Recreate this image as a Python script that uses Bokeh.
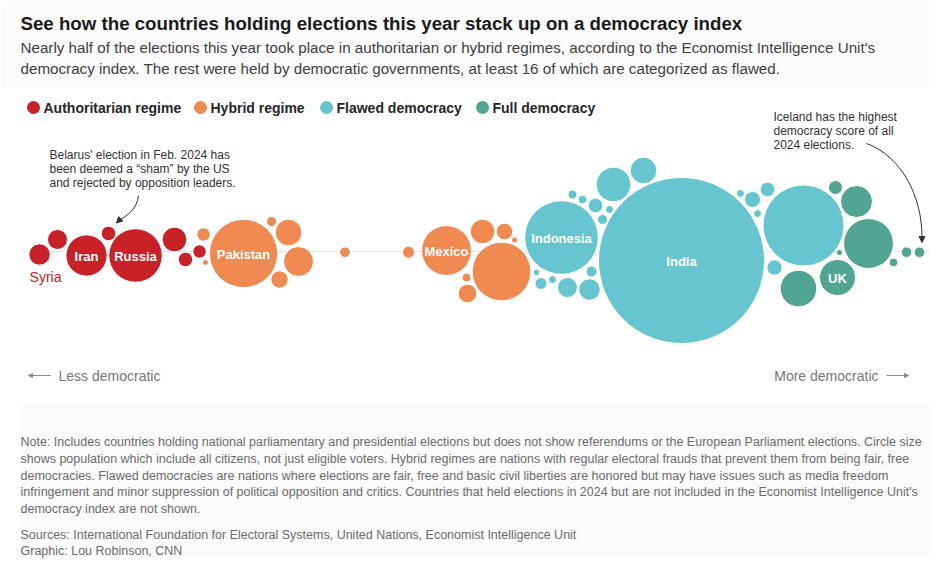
import numpy as np
from bokeh.plotting import figure
from bokeh.models import Range1d, Arrow, NormalHead, ColumnDataSource
from bokeh.core.properties import value
from bokeh.embed import file_html
from bokeh.resources import INLINE

# ---------------- data ----------------
categories = ["Authoritarian regime", "Hybrid regime", "Flawed democracy", "Full democracy"]
category_colors = ["#c62228", "#ef8a52", "#66c5cf", "#52a593"]

names = ["Syria", "", "Iran", "Belarus", "Russia", "", "", "",
         "", "", "Pakistan", "", "", "", "", "", "", "Mexico", "", "", "", "", "", "",
         "Indonesia", "", "", "", "", "", "", "", "", "", "", "", "", "", "India",
         "", "", "", "", "", "",
         "", "", "", "", "UK", "", "", "", "Iceland"]
category = [0, 0, 0, 0, 0, 0, 0, 0,
            1, 1, 1, 1, 1, 1, 1, 1, 1, 1, 1, 1, 1, 1, 1, 1,
            2, 2, 2, 2, 2, 2, 2, 2, 2, 2, 2, 2, 2, 2, 2,
            2, 2, 2, 2, 2, 2,
            3, 3, 3, 3, 3, 3, 3, 3, 3]
population = [24, 21, 89, 11, 150, 32, 11, 9.4,
              9.4, 1.9, 244, 5.2, 37, 47, 15.8, 5.9, 7.5, 130, 31.6, 14.4, 1.9, 180, 3.9, 18.1,
              284, 4.2, 3.9, 11.1, 3.3, 5.2, 62.6, 37, 2.3, 7.5, 3.3, 20.9, 24, 6.3, 1441,
              343, 3.3, 13.4, 11.1, 3.3, 12.4,
              10.2, 53.5, 130, 70, 67.8, 1.9, 3.9, 5.9, 5.9]
# beeswarm layout position along the democracy-index axis, and vertical swarm offset
swarm_x = [39, 57, 86, 108, 135, 174, 185, 199,
           203, 205, 243, 271, 288, 298, 279, 344.5, 408, 446, 482, 504, 514, 501, 466, 467,
           561, 572, 582, 595, 609, 602, 613, 643, 536, 540.5, 552, 567, 589, 591, 681,
           803, 740, 752, 767, 757, 774,
           835, 856, 868, 798, 837, 839, 893, 906, 919]
swarm_y = [-3, 12, -4, 18, -4, 12, -8, 0,
           17, -11, -2, 30, 19, -10, -28, -0.7, -0.7, 1, 20, 20, 11.5, -20, -26, -42,
           14, 57, 52, 46, 42, 32, 67, 81, -21, -32, -28, -36, -38, -20, -9,
           26, 58, 52, 62, 38, -16,
           64, 50, 8, -37, -26, -1, -11, -0.7, -0.7]

BASE_Y = 251
R_MAX = 83.0

legend_x = [33, 200, 326, 482]

# ---------------- figure ----------------
W, H = 940, 558
p = figure(width=W, height=H, x_range=Range1d(0, W), y_range=Range1d(H, 0),
           output_backend="svg", toolbar_location=None, min_border=0)
p.axis.visible = False
p.grid.visible = False
p.outline_line_color = None
p.background_fill_color = "white"
p.border_fill_color = "white"

FONT = value("Liberation Sans")

# subtle header/footer bands
p.quad(left=[0], right=[929], top=[0], bottom=[88], fill_color="#fcfcfc", line_color=None)
p.quad(left=[20], right=[930], top=[402], bottom=[H], fill_color="#fbfbfb", line_color=None)

# baseline
p.segment(x0=[20], y0=[BASE_Y], x1=[930], y1=[BASE_Y], line_color="#e3e3e3", line_width=1)

pop = np.array(population, dtype=float)
radius = R_MAX * np.sqrt(pop / pop.max())
cx = np.array(swarm_x, dtype=float)
cy = BASE_Y - np.array(swarm_y, dtype=float)
cols = [category_colors[c] for c in category]
src = ColumnDataSource(dict(x=cx, y=cy, r=radius, color=cols))
p.circle(x="x", y="y", radius="r", source=src, fill_color="color", line_color="white",
         line_width=1)

# labels inside circles
lab_x, lab_y, lab_t = [], [], []
for n, x, y in zip(names, cx, cy):
    if n in ("Iran", "Russia", "Pakistan", "Mexico", "Indonesia", "India", "UK"):
        lab_x.append(x); lab_y.append(y + 1); lab_t.append(n)
p.text(x=lab_x, y=lab_y, text=lab_t, text_font=FONT, text_font_style="bold",
       text_font_size="13px", text_color="white", text_align="center", text_baseline="middle")
i_syria = names.index("Syria")
p.text(x=[cx[i_syria] + 6], y=[cy[i_syria] + 22], text=["Syria"], text_font=FONT,
       text_font_size="14px", text_color=category_colors[0], text_align="center",
       text_baseline="middle")

# title / subtitle
p.text(x=[20], y=[23], text=["See how the countries holding elections this year stack up on a democracy index"],
       text_font=FONT, text_font_style="bold", text_font_size="18.7px", text_color="#1a1a1a",
       text_baseline="middle")
p.text(x=[20, 20], y=[47, 68],
       text=["Nearly half of the elections this year took place in authoritarian or hybrid regimes, according to the Economist Intelligence Unit's",
             "democracy index. The rest were held by democratic governments, at least 16 of which are categorized as flawed."],
       text_font=FONT, text_font_size="15.2px", text_color="#404040", text_baseline="middle")

# legend
p.circle(x=legend_x, y=[107] * 4, radius=6.5, fill_color=category_colors, line_color=None)
p.text(x=[lx + 10 for lx in legend_x], y=[107] * 4, text=categories, text_font=FONT,
       text_font_style="bold", text_font_size="14px", text_color="#262626", text_baseline="middle")

# annotations
p.text(x=[49] * 3, y=[154.5, 168.5, 182.5],
       text=["Belarus' election in Feb. 2024 has", "been deemed a \u201csham\u201d by the US",
             "and rejected by opposition leaders."],
       text_font=FONT, text_font_size="12px", text_color="#333333", text_baseline="middle")
p.text(x=[773] * 3, y=[116.5, 130.5, 144.5],
       text=["Iceland has the highest", "democracy score of all", "2024 elections."],
       text_font=FONT, text_font_size="12px", text_color="#333333", text_baseline="middle")
p.bezier(x0=[138], y0=[195], x1=[118], y1=[220], cx0=[137], cy0=[208], cx1=[126], cy1=[216],
         line_color="#333333", line_width=1)
p.add_layout(Arrow(x_start=119.5, y_start=219, x_end=116, y_end=222.5, line_color="#333333",
                   end=NormalHead(size=6, fill_color="#333333", line_color="#333333")))
p.bezier(x0=[866], y0=[143], x1=[921.5], y1=[238], cx0=[900], cy0=[155], cx1=[922], cy1=[195],
         line_color="#333333", line_width=1)
p.add_layout(Arrow(x_start=921.5, y_start=236, x_end=921.5, y_end=242, line_color="#333333",
                   end=NormalHead(size=6, fill_color="#333333", line_color="#333333")))

# direction labels
p.text(x=[58], y=[375], text=["Less democratic"], text_font=FONT, text_font_size="14px",
       text_color="#777777", text_baseline="middle")
p.text(x=[878], y=[375], text=["More democratic"], text_font=FONT, text_font_size="14px",
       text_color="#777777", text_baseline="middle", text_align="right")
p.add_layout(Arrow(x_start=50, y_start=375, x_end=28, y_end=375, line_color="#888888",
                   line_width=1, end=NormalHead(size=4, fill_color="#888888", line_color="#888888")))
p.add_layout(Arrow(x_start=886, y_start=375, x_end=908, y_end=375, line_color="#888888",
                   line_width=1, end=NormalHead(size=4, fill_color="#888888", line_color="#888888")))

# footer
note = ["Note: Includes countries holding national parliamentary and presidential elections but does not show referendums or the European Parliament elections. Circle size",
        "shows population which include all citizens, not just eligible voters. Hybrid regimes are nations with regular electoral frauds that prevent them from being fair, free",
        "democracies. Flawed democracies are nations where elections are fair, free and basic civil liberties are honored but may have issues such as media freedom",
        "infringement and minor suppression of political opposition and critics. Countries that held elections in 2024 but are not included in the Economist Intelligence Unit's",
        "democracy index are not shown."]
p.text(x=[20] * 5, y=[441, 458, 475, 491.5, 508], text=note, text_font=FONT,
       text_font_size="12.5px", text_color="#6b6b6b", text_baseline="middle")
p.text(x=[20, 20], y=[534, 550],
       text=["Sources: International Foundation for Electoral Systems, United Nations, Economist Intelligence Unit",
             "Graphic: Lou Robinson, CNN"],
       text_font=FONT, text_font_size="12.5px", text_color="#6b6b6b", text_baseline="middle")

open("out.html", "w").write(file_html(p, INLINE))
